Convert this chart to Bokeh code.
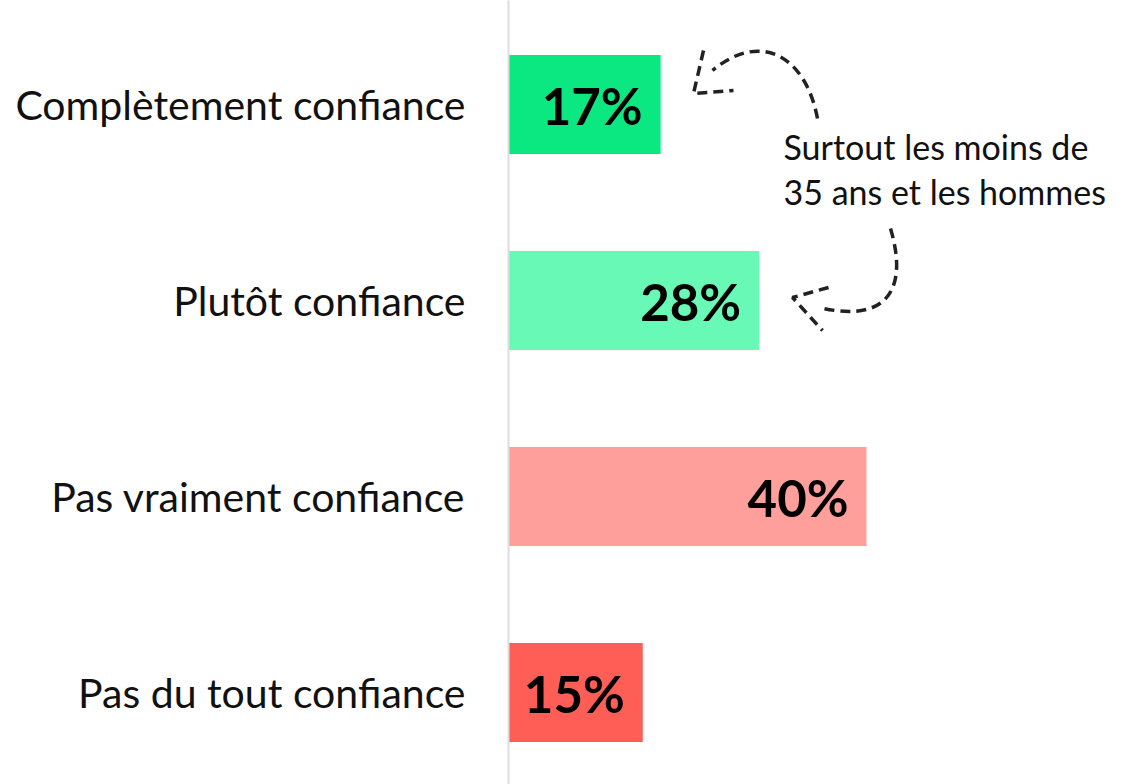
from bokeh.plotting import figure
from bokeh.models import Range1d, FixedTicker
from bokeh.core.properties import value
from bokeh.embed import file_html
from bokeh.resources import INLINE

categories = ["Complètement confiance", "Plutôt confiance", "Pas vraiment confiance", "Pas du tout confiance"]
values = [17, 28, 40, 15]
labels = ["17%", "28%", "40%", "15%"]
colors = ["#0be881", "#69f9b6", "#ff9f9b", "#ff5e57"]
note_lines = ["Surtout les moins de", "35 ans et les hommes"]

FONT = "Lato"
W, H = 1122, 784
LEFT = 508
PX_PER_PCT = 8.95
ROW = 196.0
FIRST = 104.0

xmax = (W - LEFT) / PX_PER_PCT
ytop = -FIRST / ROW
ybot = (H - FIRST) / ROW

p = figure(width=W, height=H, output_backend="svg", toolbar_location=None,
           x_range=Range1d(0, xmax), y_range=Range1d(ybot, ytop),
           x_axis_type=None, min_border_left=LEFT, min_border_right=0,
           min_border_top=0, min_border_bottom=0)
p.grid.visible = False
p.outline_line_color = None
p.background_fill_color = "white"

ys = list(range(len(categories)))
p.hbar(y=ys, left=0, right=values, height=99 / ROW, color=colors, line_color=None)

ax = p.yaxis[0]
ax.ticker = FixedTicker(ticks=ys)
ax.major_label_overrides = {i: c for i, c in zip(ys, categories)}
ax.major_label_text_font = FONT
ax.major_label_text_font_size = "41px"
ax.major_label_text_color = "#111111"
ax.major_tick_line_color = None
ax.minor_tick_line_color = None
ax.major_tick_out = 0
ax.major_tick_in = 0
ax.major_label_standoff = 43
ax.axis_line_color = "#dddddd"
ax.axis_line_width = 2

p.text(x=values, y=ys, text=labels, text_align="right", text_baseline="middle",
       x_offset=-18, y_offset=1, text_font=value(FONT), text_font_style="bold",
       text_font_size="51px", text_color="#000000")


def d(px, py):
    """page pixel -> data coordinates"""
    return (px - LEFT) / PX_PER_PCT, (py - FIRST) / ROW


n1, n2 = d(783, 146), d(783, 191)
p.text(x=[n1[0], n2[0]], y=[n1[1], n2[1]], text=note_lines, text_align="left",
       text_baseline="middle", text_font=value(FONT), text_font_size="34px",
       text_color="#111111")

dash = dict(line_color="#222222", line_width=3.5, line_dash="10 6")

# top arrow
a0, a1, a2, a3 = d(817, 118), d(805, 55), d(760, 30), d(712, 70)
p.bezier(x0=[a0[0]], y0=[a0[1]], x1=[a3[0]], y1=[a3[1]],
         cx0=[a1[0]], cy0=[a1[1]], cx1=[a2[0]], cy1=[a2[1]], **dash)
h = [d(703, 50), d(693, 93), d(733, 90)]
p.line(x=[q[0] for q in h], y=[q[1] for q in h], **dash)

# bottom arrow
b0, b1, b2, b3 = d(890, 228), d(907, 285), d(890, 322), d(823, 308)
p.bezier(x0=[b0[0]], y0=[b0[1]], x1=[b3[0]], y1=[b3[1]],
         cx0=[b1[0]], cy0=[b1[1]], cx1=[b2[0]], cy1=[b2[1]], **dash)
h2 = [d(828, 287), d(792, 297), d(822, 330)]
p.line(x=[q[0] for q in h2], y=[q[1] for q in h2], **dash)

open("out.html", "w").write(file_html(p, INLINE))
